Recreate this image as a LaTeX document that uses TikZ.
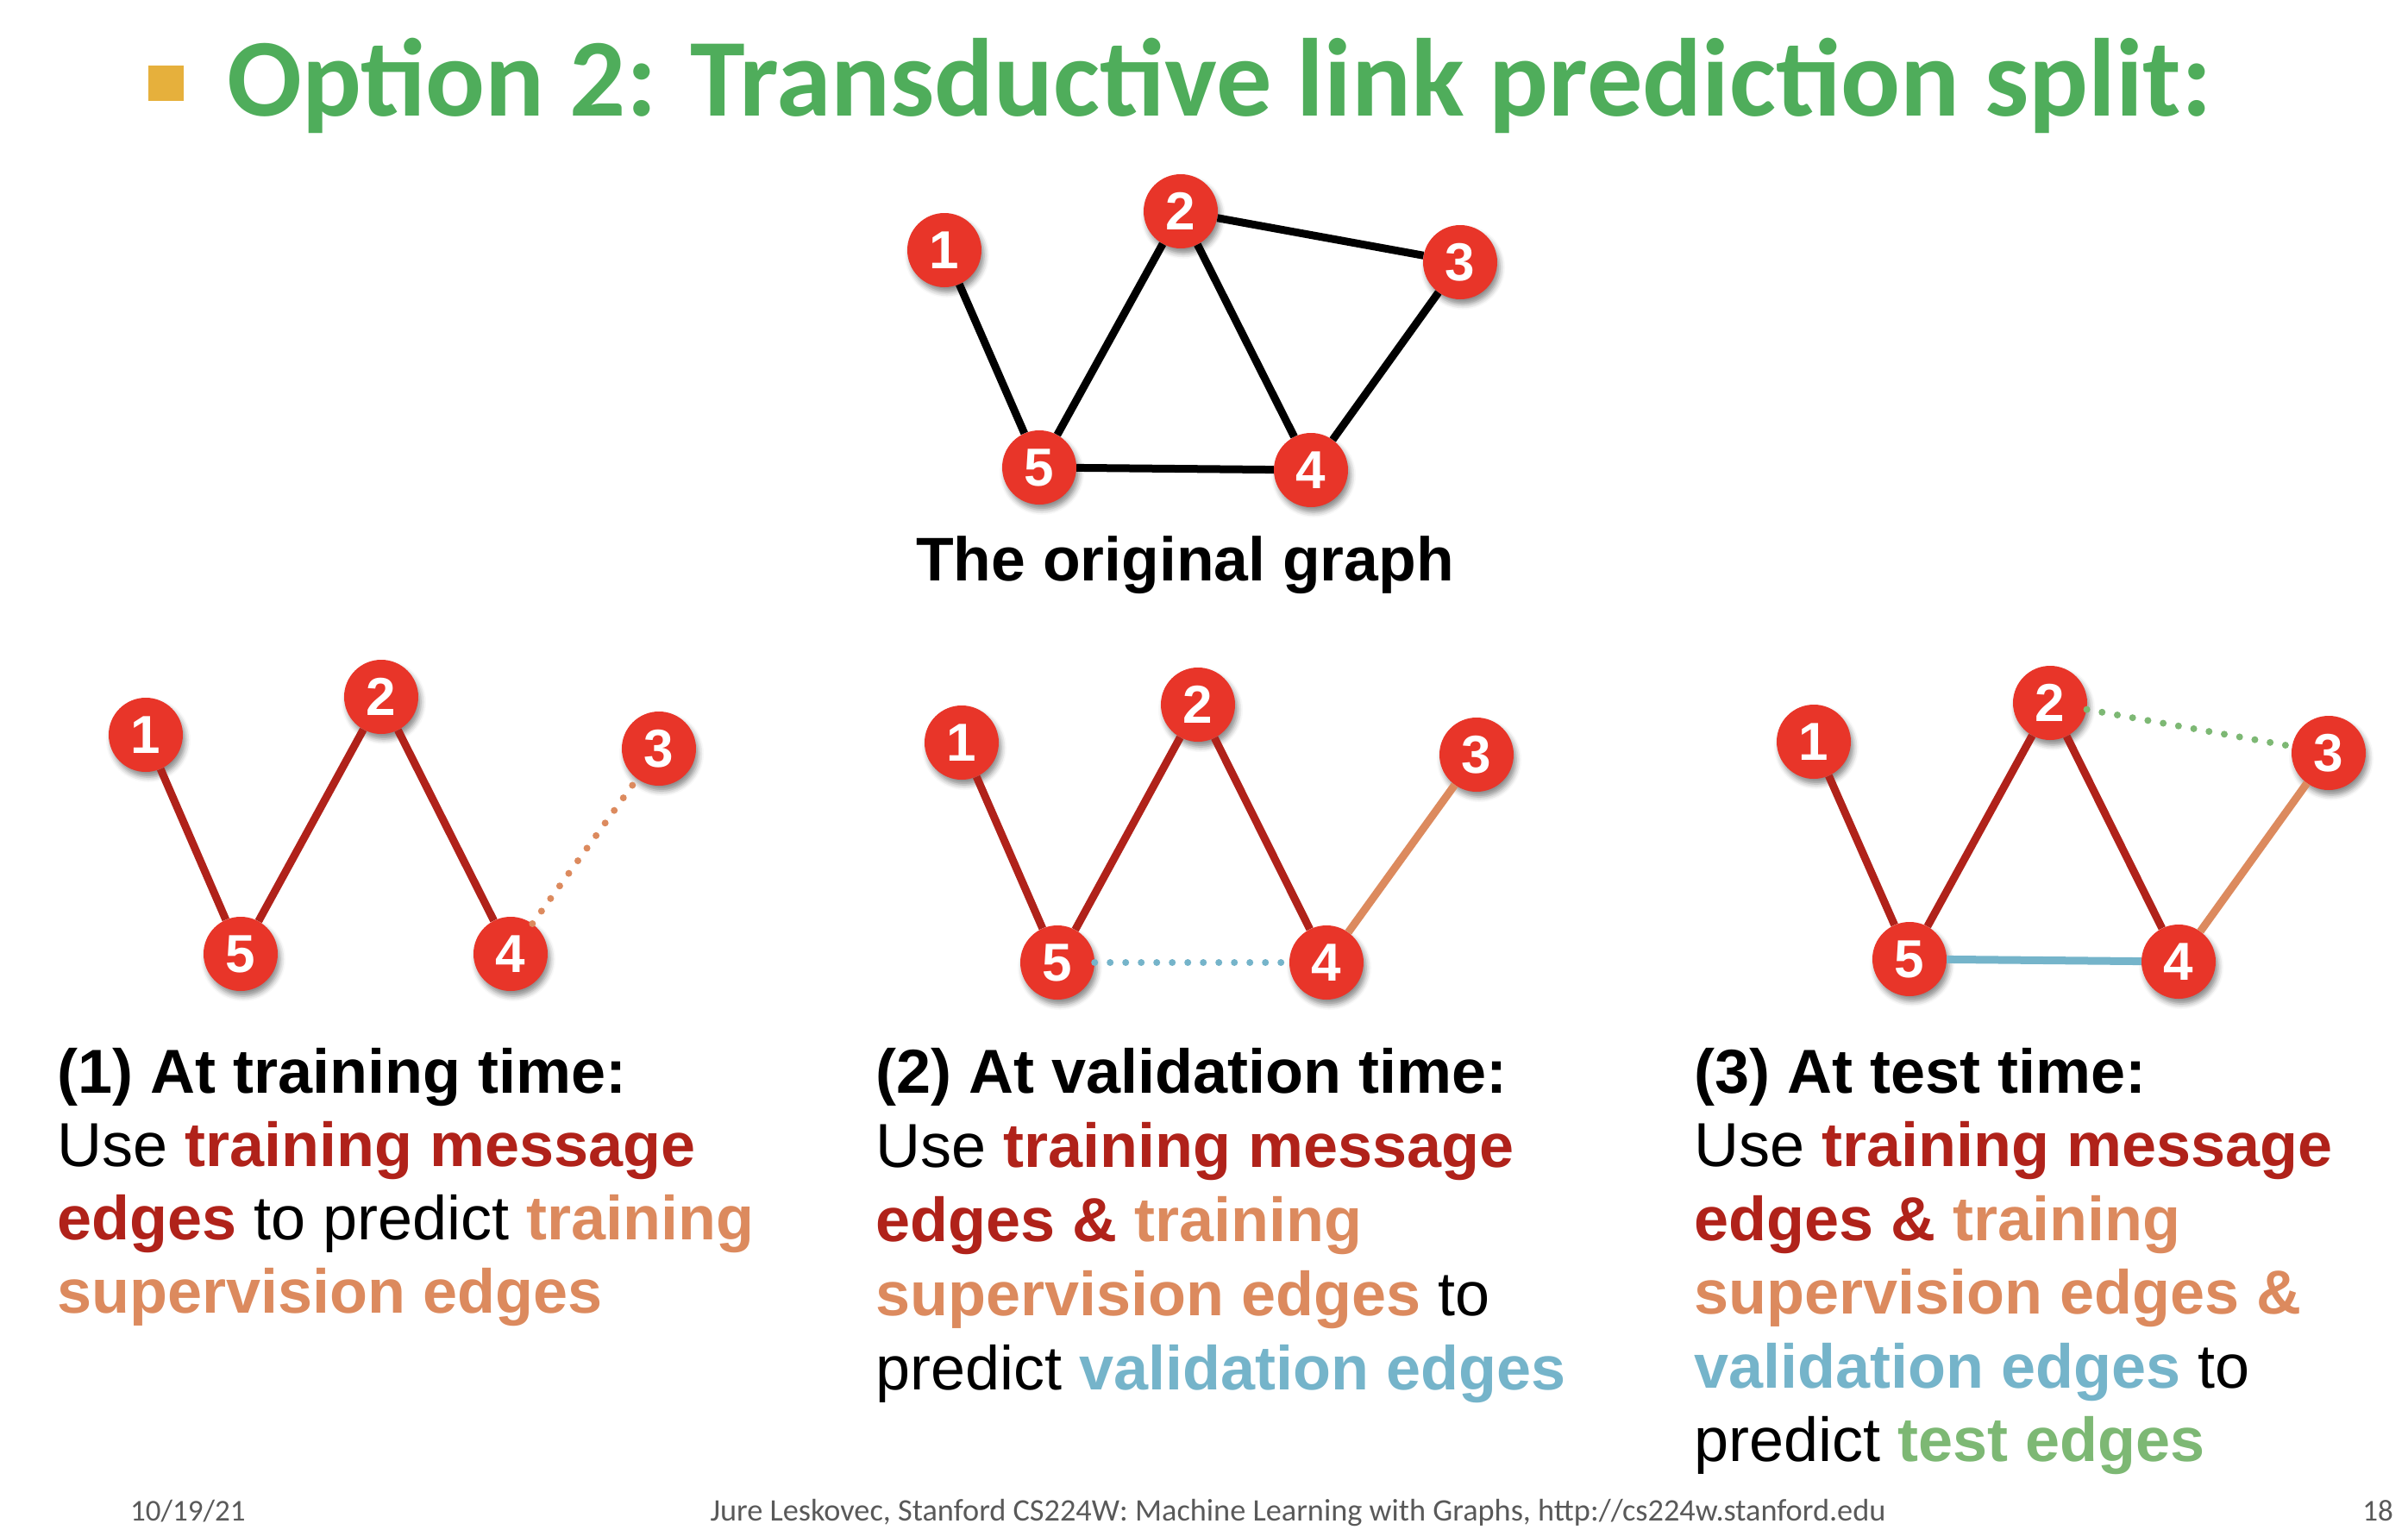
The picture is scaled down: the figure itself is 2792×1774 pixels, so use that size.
\documentclass[tikz,border=0pt]{standalone}
\usepackage{fontspec}
\setmainfont{Liberation Sans}
\newfontfamily\calibri{Carlito}
\usetikzlibrary{shadows.blur}

\definecolor{titlegreen}{RGB}{79,173,91}
\definecolor{bulletyellow}{RGB}{230,176,60}
\definecolor{nodered}{RGB}{232,53,41}
\definecolor{msgred}{RGB}{176,34,26}
\definecolor{suporange}{RGB}{220,138,94}
\definecolor{valblue}{RGB}{117,180,202}
\definecolor{testgreen}{RGB}{125,184,116}
\definecolor{footgray}{RGB}{89,89,89}

\newcommand{\msgtxt}[1]{\textbf{\color{msgred}#1}}
\newcommand{\suptxt}[1]{\textbf{\color{suporange}#1}}
\newcommand{\valtxt}[1]{\textbf{\color{valblue}#1}}
\newcommand{\testtxt}[1]{\textbf{\color{testgreen}#1}}

\begin{document}
\begin{tikzpicture}[x=1pt,y=-1pt,
  vertex/.style={circle, fill=nodered, inner sep=0pt, minimum size=86pt,
    text=white, font=\fontsize{62}{62}\selectfont\bfseries,
    blur shadow={shadow xshift=3pt, shadow yshift=-6pt, shadow blur radius=6pt, shadow opacity=45}},
  edgeline/.style={line width=9pt},
  origedge/.style={edgeline, draw=black},
  msgedge/.style={edgeline, draw=msgred},
  supedge/.style={edgeline, draw=suporange},
  valedge/.style={edgeline, draw=valblue},
  dotline/.style={line width=8pt, line cap=round, dash pattern=on 0pt off 18pt},
  textline/.style={anchor=base west, inner sep=0pt, font=\fontsize{72}{72}\selectfont},
  footer/.style={inner sep=0pt, text=footgray, font=\calibri\fontsize{35}{35}\selectfont}
]
\path[use as bounding box] (0,0) rectangle (2792,1774);

% heading
\fill[bulletyellow] (172,76) rectangle (213,117);
\node[anchor=base west, inner sep=0pt, text=titlegreen,
      font=\calibri\bfseries\fontsize{128.5}{128.5}\selectfont] (title) at (263,135)
  {Option 2: Transductive link prediction split:};

% the original graph
\node[vertex] (o1) at (1095,290) {1};
\node[vertex] (o2) at (1369,245) {2};
\node[vertex] (o3) at (1693,304) {3};
\node[vertex] (o5) at (1205,542) {5};
\node[vertex] (o4) at (1520,545) {4};
\draw[origedge] (o1) -- (o5);
\draw[origedge] (o5) -- (o2);
\draw[origedge] (o2) -- (o4);
\draw[origedge] (o2) -- (o3);
\draw[origedge] (o3) -- (o4);
\draw[origedge] (o5) -- (o4);
\node[textline, font=\fontsize{71.5}{71.5}\selectfont\bfseries] (ocap) at (1062,673) {The original graph};

% (1) training time
\node[vertex] (a1) at (169,852) {1};
\node[vertex] (a2) at (442,808) {2};
\node[vertex] (a3) at (764,868) {3};
\node[vertex] (a5) at (279,1106) {5};
\node[vertex] (a4) at (592,1106) {4};
\draw[msgedge] (a1) -- (a5);
\draw[msgedge] (a5) -- (a2);
\draw[msgedge] (a2) -- (a4);
\draw[dotline, draw=suporange] (a4) -- (a3);

% (2) validation time
\node[vertex] (b1) at (1115,861) {1};
\node[vertex] (b2) at (1389,817) {2};
\node[vertex] (b3) at (1712,875) {3};
\node[vertex] (b5) at (1226,1116) {5};
\node[vertex] (b4) at (1538,1116) {4};
\draw[msgedge] (b1) -- (b5);
\draw[msgedge] (b5) -- (b2);
\draw[msgedge] (b2) -- (b4);
\draw[supedge] (b4) -- (b3);
\draw[dotline, draw=valblue] (b5) -- (b4);

% (3) test time
\node[vertex] (c1) at (2103,860) {1};
\node[vertex] (c2) at (2377,815) {2};
\node[vertex] (c3) at (2700,873) {3};
\node[vertex] (c5) at (2214,1112) {5};
\node[vertex] (c4) at (2526,1115) {4};
\draw[msgedge] (c1) -- (c5);
\draw[msgedge] (c5) -- (c2);
\draw[msgedge] (c2) -- (c4);
\draw[supedge] (c4) -- (c3);
\draw[valedge] (c5) -- (c4);
\draw[dotline, draw=testgreen] (c2) -- (c3);

% captions
\node[textline] (ta1) at (66,1267) {\textbf{(1) At training time:}};
\node[textline] (ta2) at (66,1352) {Use \msgtxt{training message}};
\node[textline] (ta3) at (66,1437) {\msgtxt{edges} to predict \suptxt{training}};
\node[textline] (ta4) at (66,1522) {\suptxt{supervision edges}};

\node[textline] (tb1) at (1015,1267) {\textbf{(2) At validation time:}};
\node[textline] (tb2) at (1015,1353) {Use \msgtxt{training message}};
\node[textline] (tb3) at (1015,1439) {\msgtxt{edges \&} \suptxt{training}};
\node[textline] (tb4) at (1015,1525) {\suptxt{supervision edges} to};
\node[textline] (tb5) at (1015,1611) {predict \valtxt{validation edges}};

\node[textline] (tc1) at (1964,1267) {\textbf{(3) At test time:}};
\node[textline] (tc2) at (1964,1352) {Use \msgtxt{training message}};
\node[textline] (tc3) at (1964,1438) {\msgtxt{edges \&} \suptxt{training}};
\node[textline] (tc4) at (1964,1523) {\suptxt{supervision edges \&}};
\node[textline] (tc5) at (1964,1609) {\valtxt{validation edges} to};
\node[textline] (tc6) at (1964,1694) {predict \testtxt{test edges}};

% footer
\node[footer, anchor=base west] (fdate) at (151,1763) {10/19/21};
\node[footer, anchor=base, font=\calibri\fontsize{36.3}{36.3}\selectfont] (fcredit) at (1505,1763) {Jure Leskovec, Stanford CS224W: Machine Learning with Graphs, http://cs224w.stanford.edu};
\node[footer, anchor=base east] (fpage) at (2775,1763) {18};
\end{tikzpicture}
\end{document}
